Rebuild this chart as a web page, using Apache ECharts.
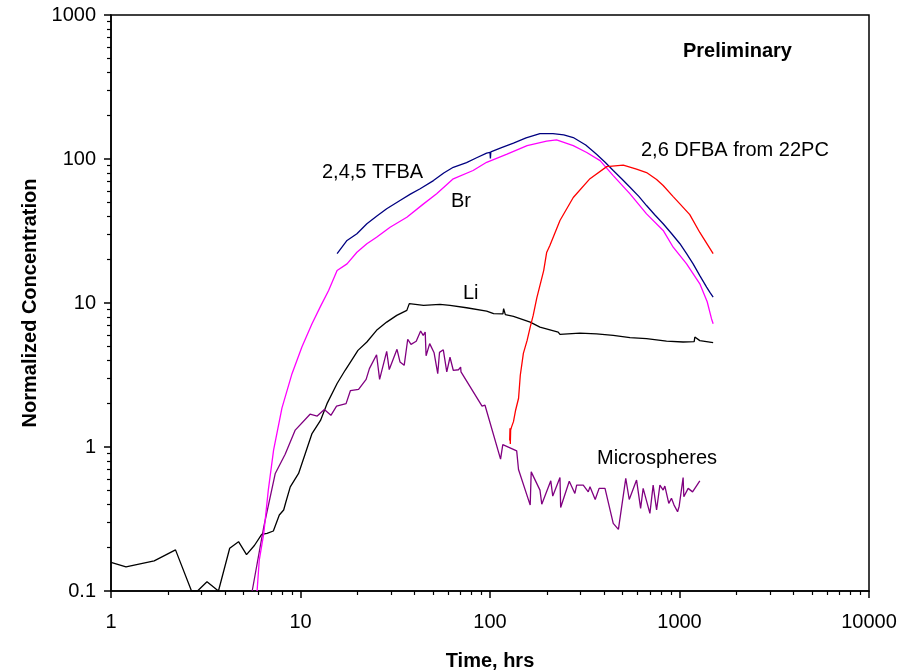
<!DOCTYPE html>
<html>
<head>
<meta charset="utf-8">
<script src="https://cdn.jsdelivr.net/npm/echarts@6/dist/echarts.min.js"></script>
<style>
html,body{margin:0;padding:0;background:#fff;}
#chart{width:908px;height:670px;}
</style>
</head>
<body>
<div id="chart"></div>
<script>
// ---- Data (time in hrs, normalized concentration) ----
const tfbaData = [
  [15.6,22.0],[17.6,27.2],[19.85,30.3],[22.4,35.5],[25.2,40.0],[28.5,45.1],[33.5,51.5],[38,57],[42.8,62.1],
  [50.3,70.8],[57,80],[64,87.6],[75.2,94.4],[85,102],[96,110],[100,111],[100.5,101],[101,112],[115,120],[133,129],[155,140],[183.5,150],
  [215,150],[245,147],[275,141],[320,125],[365,108],[405,95],[447,83.2],[495,73],[548,63.7],[610,55],
  [670,47.5],[740,41],[820,35.5],[905,30.5],[1005,25.8],[1090,22],[1180,18.7],[1280,15.5],[1390,12.9],[1450,11.8],[1505,11.0]
];
const brData = [
  [5.9,0.1],[6.06,0.164],[6.4,0.251],[6.76,0.5],[7.21,0.95],[7.98,1.86],[9.02,3.23],[10.17,4.95],[11.5,7.18],
  [12.75,9.47],[14.07,12.2],[15.6,16.8],[17.6,18.7],[19.85,22.5],[22.4,25.8],[25.2,28.6],[29.7,33.6],
  [36.4,39.4],[44.6,48.8],[52.3,57.3],[64,72.8],[81.4,83.2],[96,94.9],[123,108],[157,124],[199,133],
  [224.5,135.6],[275,124],[324,111],[381,97.5],[447,76.7],[548,57.3],[670,41.6],[820,31.9],[926,24.4],
  [1090,18.7],[1280,13.6],[1400,10.2],[1475,7.78],[1505,7.18]
];
const liData = [
  [1.0,0.158],[1.2,0.147],[1.69,0.162],[2.19,0.193],[2.66,0.1],[2.86,0.1],[3.21,0.116],[3.69,0.1],
  [4.23,0.198],[4.71,0.22],[5.19,0.179],[5.71,0.207],[6.24,0.247],[6.66,0.251],[7.19,0.261],[7.73,0.337],
  [8.15,0.365],[8.35,0.41],[8.83,0.529],[9.77,0.655],[10.6,0.901],[11.5,1.24],[12.75,1.53],[13.8,2.0],
  [15.6,2.76],[17.2,3.41],[18.6,4.0],[20.1,4.69],[22.4,5.36],[25.2,6.46],[28.5,7.37],[32.2,8.2],
  [36.4,8.89],[37.5,9.9],[37.9,9.62],[44.6,9.62],[54.5,9.78],[61.5,9.62],[75.2,9.27],[96,8.79],
  [104.5,8.43],[117,8.4],[118,9.13],[120.5,8.3],[133,8.07],[163,7.37],[183.5,6.8],[229,6.28],[234,6.05],
  [298,6.18],[365,6.11],[447,5.96],[548,5.74],[670,5.65],[854,5.44],[1045,5.36],[1195,5.4],[1205,5.8],
  [1280,5.48],[1505,5.31]
];
const dfbaData = [
  [127,1.11],[127.5,1.35],[128,1.05],[128.5,1.31],[130,1.38],[133,1.5],[136.5,1.80],[141.5,2.18],[144.5,3.15],
  [150,4.47],[157,5.5],[163,6.8],[169,8.2],[176.5,10.8],[192,16.8],[199,22.4],[207,25.1],[234,37.4],
  [275,54],[337,73],[413,88.5],[505,90.7],[593,85.1],[670,80.5],[757,72],[820,65.4],[926,54.8],
  [1005,48.8],[1133,41.1],[1280,30.9],[1505,22.0]
];
const microData = [
  [5.56,0.1],[6.4,0.279],[7.36,0.655],[8.3,0.891],[9.38,1.31],[11.23,1.69],[12.25,1.64],[13.36,1.82],
  [14.47,1.66],[15.5,1.92],[17.4,2.0],[18.33,2.46],[20.25,2.51],[22.2,2.95],[23.1,3.50],[25.2,4.37],
  [26.15,2.95],[28.5,4.62],[29.4,3.45],[32.3,4.77],[33.5,3.9],[35.25,3.69],[36.8,5.6],[38.3,5.16],
  [40.8,5.42],[43.05,6.39],[44.4,5.96],[45.5,6.28],[46.0,4.3],[48.05,5.22],[50.7,4.51],[53.0,3.23],
  [54.15,4.54],[56.7,4.73],[59.15,3.32],[61.5,4.2],[64.0,3.41],[68.2,3.44],[70.0,3.59],[70.3,3.32],
  [90.8,1.92],[94.1,1.95],[113.7,0.823],[116.8,1.04],[138.3,0.939],[141.4,0.698],[163,0.395],[165,0.672],
  [183.5,0.502],[187.6,0.401],[209.3,0.582],[214.4,0.456],[234,0.614],[236,0.380],[262,0.579],
  [280.5,0.476],[286.6,0.543],[310.5,0.543],[330,0.488],[337,0.529],[359,0.432],[376.5,0.516],
  [404.5,0.516],[447,0.295],[476,0.268],[520.5,0.605],[543,0.432],[593.5,0.589],[623.5,0.375],
  [643,0.516],[698,0.346],[726,0.543],[757,0.365],[788,0.543],[820,0.502],[837,0.535],[878,0.406],
  [907,0.44],[936,0.395],[977,0.355],[996,0.388],[1045,0.614],[1054,0.451],[1111,0.516],[1172,0.488],
  [1220,0.529],[1280,0.582]
];
const xMin = 1, xMax = 10000, yMin = 0.1, yMax = 1000;

const FONT = "'Liberation Sans', Arial, sans-serif";
const fmt = v => String(+(+v).toPrecision(6));

const chart = echarts.init(document.getElementById('chart'), null, {renderer: 'canvas'});
function lineSeries(name, data, color) {
  return {name, type: 'line', data, symbol: 'none', showSymbol: false, clip: true,
    lineStyle: {color, width: 1.3}, itemStyle: {color}, z: 3, silent: true};
}
const axisCommon = {
  type: 'log', logBase: 10,
  nameLocation: 'middle',
  nameTextStyle: {fontFamily: FONT, fontSize: 20, fontWeight: 'bold', color: '#000'},
  axisLine: {show: true, lineStyle: {color: '#000', width: 1.5}},
  axisTick: {show: true, inside: false, length: 7, lineStyle: {color: '#000', width: 1.5}},
  minorTick: {show: true, splitNumber: 9, length: 4, lineStyle: {color: '#000', width: 1.2}},
  splitLine: {show: false},
  minorSplitLine: {show: false}
};
const option = {
  animation: false,
  backgroundColor: '#fff',
  textStyle: {fontFamily: FONT},
  grid: {left: 111, right: 39, top: 15, bottom: 79, outerBoundsMode: 'none', containLabel: false,
    show: true, borderColor: '#000', borderWidth: 1.5, backgroundColor: 'transparent'},
  xAxis: Object.assign({}, axisCommon, {
    min: xMin, max: xMax, name: 'Time, hrs', nameGap: 60,
    axisLabel: {margin: 21, fontFamily: FONT, fontSize: 20, color: '#000', formatter: fmt}
  }),
  yAxis: Object.assign({}, axisCommon, {
    min: yMin, max: yMax, name: 'Normalized Concentration', nameGap: 70,
    axisLabel: {margin: 15, fontFamily: FONT, fontSize: 20, color: '#000', formatter: fmt}
  }),
  series: [
    lineSeries('Li', liData, '#000000'),
    lineSeries('Microspheres', microData, '#800080'),
    lineSeries('Br', brData, '#FF00FF'),
    lineSeries('2,4,5 TFBA', tfbaData, '#000080'),
    lineSeries('2,6 DFBA from 22PC', dfbaData, '#FF0000')
  ],
  graphic: [
    {type: 'text', left: 683, top: 41, style: {text: 'Preliminary', font: "bold 20px " + FONT, fill: '#000'}},
    {type: 'text', left: 322, top: 162, style: {text: '2,4,5 TFBA', font: "20px " + FONT, fill: '#000'}},
    {type: 'text', left: 451, top: 191, style: {text: 'Br', font: "20px " + FONT, fill: '#000'}},
    {type: 'text', left: 463, top: 283, style: {text: 'Li', font: "20px " + FONT, fill: '#000'}},
    {type: 'text', left: 641, top: 140, style: {text: '2,6 DFBA from 22PC', font: "20px " + FONT, fill: '#000'}},
    {type: 'text', left: 597, top: 448, style: {text: 'Microspheres', font: "20px " + FONT, fill: '#000'}}
  ]
};
chart.setOption(option);
</script>
</body>
</html>
